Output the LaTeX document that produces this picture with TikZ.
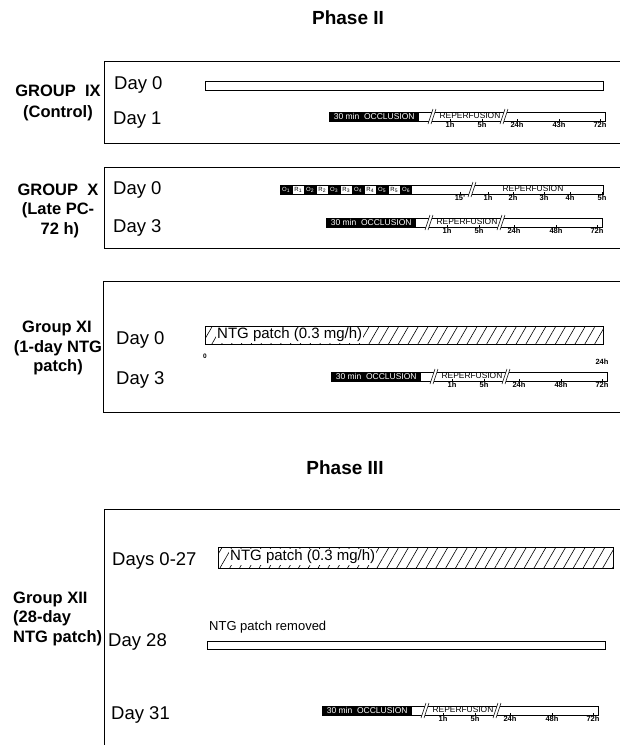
\documentclass[tikz,border=0pt]{standalone}
\usepackage{fontspec}
\setmainfont{Liberation Sans}
\usetikzlibrary{patterns.meta}

\tikzset{
  grpframe/.style={line width=0.8pt},
  daylbl/.style={font=\fontsize{18.5}{20}\selectfont, anchor=west, inner sep=0pt},
  grplbl/.style={font=\fontsize{16.5}{18}\selectfont\bfseries, inner sep=0pt},
  phaselbl/.style={font=\fontsize{19}{22}\selectfont\bfseries, inner sep=0pt},
  barline/.style={draw, line width=0.6pt, fill=white},
  occblk/.style={fill=black, text=white, font=\fontsize{8.5}{9}\selectfont, inner sep=0pt, anchor=north west, minimum height=9pt},
  oblk/.style={fill=black, text=white, font=\fontsize{6}{6}\selectfont, inner sep=0pt, anchor=north west, minimum width=12pt, minimum height=9pt},
  rblk/.style={draw, line width=0.5pt, fill=white, font=\fontsize{6}{6}\selectfont, inner sep=0pt, anchor=north west, minimum width=12pt, minimum height=9pt},
  reptext/.style={font=\fontsize{8.4}{9}\selectfont, inner sep=0pt},
  ticklbl/.style={font=\fontsize{7.5}{8}\selectfont\bfseries, inner sep=0pt, anchor=north},
  ntgbar/.style={draw, line width=0.6pt, pattern={Lines[angle=60,distance=8.5pt,line width=0.6pt]}},
  ntgtext/.style={font=\fontsize{15}{17}\selectfont, fill=white, inner sep=1pt, anchor=west}
}

\newcommand{\brkmark}[1]{%
  \fill[white] (#1-5,12) -- (#1,-3) -- (#1+3,-3) -- (#1-2,12) -- cycle;
  \draw[line width=0.5pt] (#1-5,12) -- (#1,-3);
  \draw[line width=0.5pt] (#1-2,12) -- (#1+3,-3);}

\newcommand{\occrep}[4]{%
  \begin{scope}[shift={(#1,#2)}]
    \draw[barline] (0,0) rectangle (276,9);
    \node[occblk, minimum width=90pt] (#3occ) at (0,0) {30 min\ \ OCCLUSION};
    \brkmark{104}
    \brkmark{176}
    \node[reptext] (#3rep) at (141,4) {REPERFUSION};
    \foreach \tx/\tl in {121/1h,153/5h,188/24h,230/#4,271/72h}{
      \draw[line width=0.4pt] (\tx,9) -- (\tx,7);
      \node[ticklbl] (#3t\tx) at (\tx,10) {\tl};
    }
  \end{scope}}

\begin{document}
\begin{tikzpicture}[x=1pt,y=-1pt]
  \useasboundingbox (0,0) rectangle (620,745);

  \node[phaselbl] (phase2) at (348,18) {Phase II};
  \node[phaselbl] (phase3) at (345,468) {Phase III};

  % Group IX
  \draw[grpframe] (620,61) -- (104,61) -- (104,143) -- (620,143);
  \node[grplbl] (g9a) at (58,91) {GROUP\ \ IX};
  \node[grplbl] (g9b) at (58,113) {(Control)};
  \node[daylbl] (g9d0) at (114,85) {Day 0};
  \node[daylbl] (g9d1) at (113,120) {Day 1};
  \draw[barline] (205,81) rectangle (603,90);
  \occrep{329}{112}{g9}{43h}

  % Group X
  \draw[grpframe] (620,167) -- (104,167) -- (104,248) -- (620,248);
  \node[grplbl] (g10a) at (58,190) {GROUP\ \ X};
  \node[grplbl] (g10b) at (58,210) {(Late PC-};
  \node[grplbl] (g10c) at (60,230) {72 h)};
  \node[daylbl] (g10d0) at (113,190) {Day 0};
  \node[daylbl] (g10d3) at (113,228) {Day 3};
  \begin{scope}[shift={(280,185)}]
    \draw[barline] (0,0) rectangle (323,9);
    \foreach \i in {1,...,6}
      \node[oblk] (o\i) at ({(\i-1)*24},0) {O\textsubscript{\i}};
    \foreach \i in {1,...,5}
      \node[rblk] (r\i) at ({(\i-1)*24+12},0) {R\textsubscript{\i}};
    \brkmark{193}
    \node[reptext] (g10rep) at (253,4) {REPERFUSION};
    \foreach \tx/\tl in {180/15',208/1h,233/2h,264/3h,290/4h,322/5h}{
      \draw[line width=0.4pt] (\tx,9) -- (\tx,7);
      \node[ticklbl] (g10t\tx) at (\tx,10) {\tl};
    }
  \end{scope}
  \occrep{326}{218}{g10}{48h}

  % Group XI
  \draw[grpframe] (620,281) -- (103,281) -- (103,412) -- (620,412);
  \node[grplbl] (g11a) at (57,328) {Group XI};
  \node[grplbl] (g11b) at (58,348) {(1-day NTG};
  \node[grplbl] (g11c) at (58,367) {patch)};
  \node[daylbl] (g11d0) at (116,340) {Day 0};
  \node[daylbl] (g11d3) at (116,380) {Day 3};
  \draw[ntgbar] (205,326) rectangle (603,344);
  \node[ntgtext] (g11ntg) at (216,335) {NTG patch (0.3 mg/h)};
  \node[font=\fontsize{6.5}{7}\selectfont\bfseries, inner sep=0pt] (g11zero) at (205,356) {0};
  \node[font=\fontsize{7.5}{8}\selectfont\bfseries, inner sep=0pt] (g11end) at (602,362) {24h};
  \occrep{331}{372}{g11}{48h}

  % Group XII
  \draw[grpframe] (620,509) -- (104,509) -- (104,745);
  \node[grplbl, anchor=west] (g12a) at (13,599) {Group XII};
  \node[grplbl, anchor=west] (g12b) at (13,618) {(28-day};
  \node[grplbl, anchor=west] (g12c) at (13,638) {NTG patch)};
  \node[daylbl] (g12d0) at (112,561) {Days 0-27};
  \node[daylbl] (g12d28) at (108,642) {Day 28};
  \node[daylbl] (g12d31) at (111,715) {Day 31};
  \draw[ntgbar] (218,547) rectangle (613,568);
  \node[ntgtext] (g12ntg) at (229,557) {NTG patch (0.3 mg/h)};
  \node[font=\fontsize{13}{15}\selectfont, anchor=west, inner sep=0pt] (g12rem) at (209,627) {NTG patch removed};
  \draw[barline] (207,641) rectangle (605,649);
  \occrep{322}{706}{g12}{48h}
\end{tikzpicture}
\end{document}
